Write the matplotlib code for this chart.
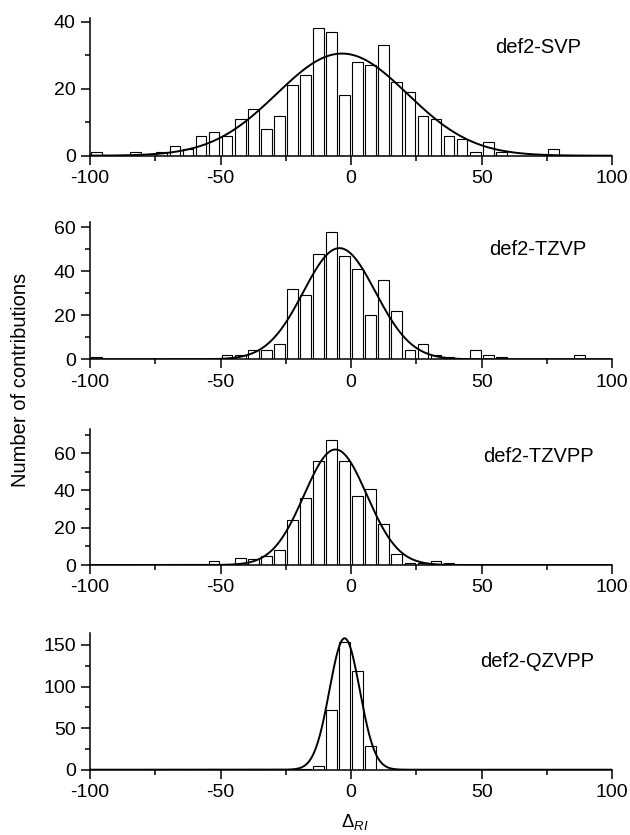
import matplotlib
matplotlib.use("Agg")
import matplotlib.pyplot as plt
import numpy as np
from matplotlib.ticker import MultipleLocator

plt.rcParams['font.family'] = ['Liberation Sans', 'DejaVu Sans']
plt.rcParams['axes.unicode_minus'] = False
plt.rcParams['mathtext.fontset'] = 'custom'
plt.rcParams['mathtext.rm'] = 'Liberation Sans'
plt.rcParams['mathtext.it'] = 'Liberation Sans:italic'

# histogram data (bin centres, counts)
svp_x = [-97.5, -82.5, -72.5, -67.5, -62.5, -57.5, -52.5, -47.5, -42.5, -37.5,
         -32.5, -27.5, -22.5, -17.5, -12.5, -7.5, -2.5, 2.5, 7.5, 12.5,
         17.5, 22.5, 27.5, 32.5, 37.5, 42.5, 47.5, 52.5, 57.5, 77.5]
svp_n = [1, 1, 1, 3, 2, 6, 7, 6, 11, 14,
         8, 12, 21, 24, 38, 37, 18, 28, 27, 33,
         22, 19, 12, 11, 6, 5, 1, 4, 1, 2]

tzvp_x = [-97.5, -47.5, -42.5, -37.5, -32.5, -27.5, -22.5, -17.5, -12.5, -7.5,
          -2.5, 2.5, 7.5, 12.5, 17.5, 22.5, 27.5, 32.5, 37.5, 47.5,
          52.5, 57.5, 87.5]
tzvp_n = [1, 2, 2, 4, 4, 7, 32, 29, 48, 58,
          47, 41, 20, 36, 22, 4, 7, 2, 1, 4,
          2, 1, 2]

tzvpp_x = [-52.5, -42.5, -37.5, -32.5, -27.5, -22.5, -17.5, -12.5, -7.5, -2.5,
           2.5, 7.5, 12.5, 17.5, 22.5, 27.5, 32.5, 37.5]
tzvpp_n = [2, 4, 3, 5, 8, 24, 36, 56, 67, 56,
           37, 41, 22, 6, 1, 1, 2, 1]

qzvpp_x = [-52.5, -37.5, -27.5, -22.5, -17.5, -12.5, -7.5, -2.5, 2.5, 7.5]
qzvpp_n = [1, 1, 1, 1, 1, 5, 72, 153, 119, 28]

# gaussian fit parameters (centre, sigma, peak height)
fit_mean = [-3.5, -4.5, -6.0, -2.5]
fit_sigma = [25.0, 13.8, 12.0, 5.8]
fit_peak = [30.5, 50.5, 62.0, 158.0]

names = ['def2-SVP', 'def2-TZVP', 'def2-TZVPP', 'def2-QZVPP']
xs = [svp_x, tzvp_x, tzvpp_x, qzvpp_x]
ns = [svp_n, tzvp_n, tzvpp_n, qzvpp_n]

# layout (pixels from top of a 630x835 image)
W, H = 630.0, 835.0
left_px, right_px = 90.0, 612.3
base_px = [155.7, 359.3, 565.0, 769.7]
top_px = [18.4, 221.7, 429.0, 633.3]
ytop = [41, 62.5, 73, 164]
ymajor = [20, 20, 20, 50]
label_pos = [(0.775, 0.79), (0.765, 0.80), (0.753, 0.80), (0.747, 0.79)]

fig = plt.figure(figsize=(W / 100, H / 100), dpi=100)

for i in range(4):
    ax = fig.add_axes([left_px / W, 1 - base_px[i] / H,
                       (right_px - left_px) / W, (base_px[i] - top_px[i]) / H])
    ax.bar(xs[i], ns[i], width=4.1, color='white', edgecolor='black',
           linewidth=0.8, zorder=2)
    xx = np.linspace(-100, 100, 801)
    yy = fit_peak[i] * np.exp(-(xx - fit_mean[i]) ** 2 / (2 * fit_sigma[i] ** 2))
    ax.plot(xx, yy, color='black', lw=1.4, zorder=3)

    ax.set_xlim(-100, 100)
    ax.set_ylim(0, ytop[i])
    ax.xaxis.set_major_locator(MultipleLocator(50))
    ax.xaxis.set_minor_locator(MultipleLocator(25))
    ax.yaxis.set_major_locator(MultipleLocator(ymajor[i]))
    ax.yaxis.set_minor_locator(MultipleLocator(ymajor[i] / 2))
    for s in ['top', 'right']:
        ax.spines[s].set_visible(False)
    for s in ['left', 'bottom']:
        ax.spines[s].set_linewidth(1.1)
        ax.spines[s].set_zorder(4)
    ax.tick_params(which='major', direction='out', length=6.3, width=1.1,
                   labelsize=14, pad=4)
    ax.tick_params(which='minor', direction='out', length=3.4, width=1.1)
    ax.tick_params(axis='x', which='major', pad=4)
    ax.text(label_pos[i][0], label_pos[i][1], names[i], transform=ax.transAxes,
            fontsize=14.5, ha='left', va='center')

fig.text(21 / W, 1 - 380 / H, 'Number of contributions', rotation=90,
         fontsize=14.5, ha='center', va='center')
fig.text(341 / W, 1 - 826.7 / H, r'$\Delta_{RI}$', fontsize=13.5,
         ha='left', va='baseline')

fig.savefig('out.png', dpi=100)
